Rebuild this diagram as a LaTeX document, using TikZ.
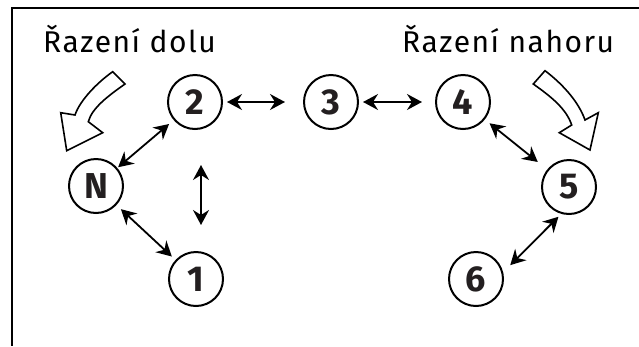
\documentclass[tikz,border=0pt]{standalone}
\usepackage{fontspec}
\setmainfont{Fira Sans}
\usetikzlibrary{positioning, arrows.meta}
\definecolor{digitcolor}{RGB}{35,31,32}

\begin{document}
\begin{tikzpicture}[x=1pt,y=-1pt]
  \tikzset{
    gear/.style={
      draw,
      circle,
      line width=2pt,
      minimum size=54pt,
      inner sep=0pt,
      font=\fontsize{36}{36}\selectfont\bfseries,
      text=digitcolor
    },
    gearlink/.style={
      {Stealth[length=15pt,width=16pt,inset=5pt]}-{Stealth[length=15pt,width=16pt,inset=5pt]},
      line width=1.8pt
    },
    caption/.style={
      font=\fontsize{30}{30}\selectfont\addfontfeatures{LetterSpace=5},
      anchor=base west,
      inner sep=0pt
    },
    hint/.style={
      draw,
      fill=white,
      line width=1.6pt,
      line join=miter
    }
  }
  \useasboundingbox (0,0) rectangle (639,346);

  % Frame
  \draw[line width=2pt] (639,8) -- (12,8) -- (12,346);

  % Captions
  \node[caption] at (43,52) (down) {Řazení dolu};
  \node[caption] at (402,52) (up) {Řazení nahoru};

  % Gears
  \node[gear] at (96,186) (nN) {N};
  \node[gear] at (196,279) (n1) {1};
  \node[gear] at (195,102) (n2) {2};
  \node[gear] at (331,102) (n3) {3};
  \node[gear] at (463,102) (n4) {4};
  \node[gear] at (569,187) (n5) {5};
  \node[gear] at (476,279) (n6) {6};

  % Shifts between gears
  \draw[gearlink, shorten <=4pt, shorten >=18pt] (n2) -- (n3);
  \draw[gearlink, shorten <=4pt, shorten >=13pt] (n3) -- (n4);
  \draw[gearlink, shorten <=6pt, shorten >=1pt] (n2) -- (nN);
  \draw[gearlink, shorten <=6pt, shorten >=5pt] (nN) -- (n1);
  \draw[gearlink, shorten <=6pt, shorten >=12pt] (n4) -- (n5);
  \draw[gearlink, shorten <=4pt, shorten >=10pt] (n5.254) -- (n6.14);
  \coordinate (vtop) at (201,165);
  \coordinate (vbot) at (201,225);
  \draw[gearlink] (vtop) -- (vbot);

  % Hollow direction arrows
  \draw[hint] (112.7,71.7) -- (125,84) .. controls (108,96) and (92,108) .. (88.3,121.7)
    -- (102.7,132.7) -- (66.7,150.7) -- (60.7,112.7) -- (75,115)
    .. controls (80,100) and (98,82) .. cycle;
  \draw[hint] (545,70.7) -- (533.3,84) .. controls (550,96) and (566,108) .. (571.7,125)
    -- (559.3,132.7) -- (590,150) -- (598.3,112.7) -- (585,120)
    .. controls (578,100) and (560,82) .. cycle;
\end{tikzpicture}
\end{document}
